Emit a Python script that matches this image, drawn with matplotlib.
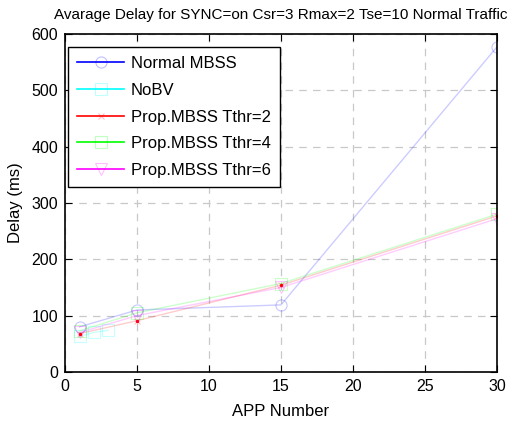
import numpy as np
import matplotlib
matplotlib.use('Agg')
import matplotlib.pyplot as plt
from matplotlib.lines import Line2D

# data
x_main = [1, 5, 15, 30]
x_nobv = [1, 2, 3]
normal_mbss = [80, 110, 119, 577]
nobv = [63, 70, 74]
tthr2 = [68, 91, 154, 277]
tthr4 = [73, 105, 157, 280]
tthr6 = [70, 100, 150, 272]

labels = ['Normal MBSS', 'NoBV', 'Prop.MBSS Tthr=2', 'Prop.MBSS Tthr=4', 'Prop.MBSS Tthr=6']
colors = ['#0000ff', '#00ffff', '#ff0000', '#00ff00', '#ff00ff']
markers = ['o', 's', 'x', 's', 'v']

plt.rcParams['font.family'] = 'Liberation Sans'

fig = plt.figure(figsize=(5.17, 4.26), dpi=100)
ax = fig.add_axes([0.126, 0.127, 0.835, 0.793])

series = [(x_main, normal_mbss), (x_nobv, nobv), (x_main, tthr2),
          (x_main, tthr4), (x_main, tthr6)]
for (xs, ys), c, m in zip(series, colors, markers):
    ax.plot(xs, ys, color=c, alpha=0.2, lw=1.0)
    ax.plot(xs, ys, ls='none', marker=m, ms=8 if m != 'x' else 5,
            mfc='none', mec=c, mew=0.8, alpha=0.22)
    if m == 'x':
        ax.plot(xs, ys, ls='none', marker='.', ms=3, color=c)

ax.set_xlim(0, 30)
ax.set_ylim(0, 600)
ax.set_xticks([0, 5, 10, 15, 20, 25, 30])
ax.set_yticks(range(0, 601, 100))
ax.grid(True, ls=(0, (6, 5)), color='#c8c8c8', lw=0.9)
ax.tick_params(direction='in', length=5, labelsize=11.5, top=True, right=True,
               labeltop=False, labelright=False, pad=5)
for sp in ax.spines.values():
    sp.set_linewidth(1.2)

ax.set_title('Avarage Delay for SYNC=on Csr=3 Rmax=2 Tse=10 Normal Traffic',
             fontsize=11, pad=11)
ax.set_xlabel('APP Number', fontsize=12, labelpad=7)
ax.set_ylabel('Delay (ms)', fontsize=12, labelpad=6)

handles = []
for c, m in zip(colors, markers):
    handles.append(Line2D([0], [0], color=c, lw=1.2, marker=m,
                          ms=8 if m != 'x' else 4, mfc='none',
                          mec=matplotlib.colors.to_rgba(c, 0.25), mew=0.8))
leg = ax.legend(handles, labels, loc='upper left', fontsize=12,
                handlelength=2.8, handletextpad=0.4, fancybox=False,
                framealpha=1, edgecolor='black', borderpad=0.55,
                labelspacing=0.7, borderaxespad=0,
                bbox_to_anchor=(0.007, 0.9615))
leg.get_frame().set_linewidth(1.0)

fig.savefig('out.png', dpi=100)
